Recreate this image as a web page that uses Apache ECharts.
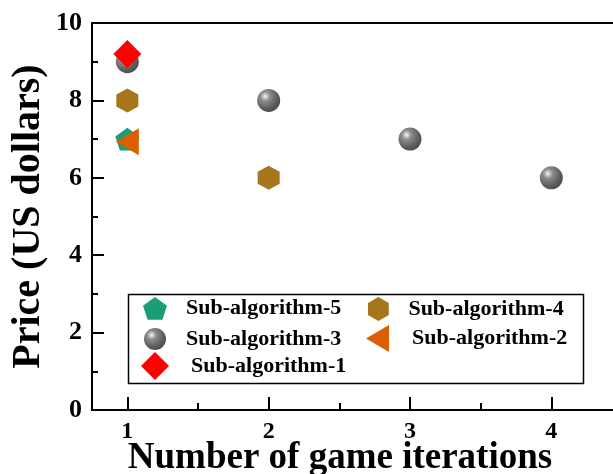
<!DOCTYPE html>
<html>
<head>
<meta charset="utf-8">
<script src="https://cdn.jsdelivr.net/npm/echarts@6/dist/echarts.min.js"></script>
<style>html,body{margin:0;padding:0;background:#fff;}#c{width:613px;height:474px;}</style>
</head>
<body>
<div id="c"></div>
<script>
// ---- data ----
const seriesNames = ['Sub-algorithm-5','Sub-algorithm-4','Sub-algorithm-3','Sub-algorithm-2','Sub-algorithm-1'];
const alg5X = [1], alg5Y = [7];
const alg4X = [1, 2], alg4Y = [8, 6];
const alg3X = [1, 2, 3, 4], alg3Y = [9, 8, 7, 6];
const alg2X = [1], alg2Y = [6.93];
const alg1X = [1], alg1Y = [9.2];
const xTickValues = [1, 2, 3, 4];
const xMinorTickValues = [1.5, 2.5, 3.5];
const xTitle = 'Number of game iterations';
const yTitle = 'Price (US dollars)';

function pts(xs, ys) { return xs.map((x, i) => [x, ys[i]]); }

const FONT = '"Liberation Serif","Times New Roman",serif';
const pentagon = 'path://M0,-10 L9.511,-3.09 L5.878,8.09 L-5.878,8.09 L-9.511,-3.09 Z';
const hexagon = 'path://M0,-10 L8.66,-5 L8.66,5 L0,10 L-8.66,5 L-8.66,-5 Z';
const leftTri = 'path://M-10,0 L10,-11.7 L10,11.7 Z';
const sphere = {
  type: 'radial', x: 0.35, y: 0.32, r: 0.75,
  colorStops: [
    { offset: 0, color: '#f4f4f4' },
    { offset: 0.28, color: '#8c8c8c' },
    { offset: 0.7, color: '#5e5e5e' },
    { offset: 1, color: '#4a4a4a' }
  ]
};

const chart = echarts.init(document.getElementById('c'), null, { renderer: 'canvas' });

function leg(name, left, top, size, pad) {
  return {
    data: [name], left: left, top: top, orient: 'horizontal',
    itemWidth: size[0], itemHeight: size[1], padding: 0,
    selectedMode: false,
    textStyle: { fontFamily: FONT, fontWeight: 'bold', fontSize: 22, color: '#000', padding: [0, 0, 0, pad] }
  };
}

const option = {
  animation: false,
  backgroundColor: '#fff',
  grid: { left: 92, top: 23, right: -9, bottom: 64, outerBoundsMode: 'none', containLabel: false, show: true, borderColor: '#000', borderWidth: 2, backgroundColor: 'transparent' },
  xAxis: [{
    type: 'value', min: 0.75, max: 4.5,
    name: xTitle, nameLocation: 'middle', nameGap: 30, nameMoveOverlap: false,
    nameTextStyle: { fontFamily: FONT, fontWeight: 'bold', fontSize: 37, color: '#000', padding: [0, 34, 0, 0] },
    axisLine: { show: true, lineStyle: { color: '#000', width: 2 } },
    axisTick: { show: true, inside: true, length: 13, lineStyle: { color: '#000', width: 2 }, customValues: xTickValues },
    axisLabel: { show: true, fontFamily: FONT, fontWeight: 'bold', fontSize: 24, color: '#000', margin: 10, customValues: xTickValues },
    splitLine: { show: false }
  }, {
    type: 'value', min: 0.75, max: 4.5, position: 'bottom', offset: 0,
    axisLine: { show: false },
    axisTick: { show: true, inside: true, length: 7, lineStyle: { color: '#000', width: 2 }, customValues: xMinorTickValues },
    axisLabel: { show: false },
    splitLine: { show: false }
  }],
  yAxis: {
    type: 'value', min: 0, max: 10, interval: 2,
    name: yTitle, nameLocation: 'middle', nameGap: 43, nameMoveOverlap: false,
    nameTextStyle: { fontFamily: FONT, fontWeight: 'bold', fontSize: 40, color: '#000' },
    axisLine: { show: true, lineStyle: { color: '#000', width: 2 } },
    axisTick: { show: true, inside: true, length: 12, lineStyle: { color: '#000', width: 2 } },
    minorTick: { show: true, splitNumber: 2, length: 6, lineStyle: { color: '#000', width: 2 } },
    axisLabel: { fontFamily: FONT, fontWeight: 'bold', fontSize: 26, color: '#000', margin: 10 },
    splitLine: { show: false }
  },
  legend: [
    leg(seriesNames[0], 143, 297, [24, 24], 14),
    leg(seriesNames[1], 368, 297, [22, 24], 14),
    leg(seriesNames[2], 144, 328, [22, 22], 15),
    leg(seriesNames[3], 366, 325, [23, 27], 18),
    leg(seriesNames[4], 141, 352, [28, 28], 17)
  ],
  graphic: [{
    type: 'rect', left: 126, top: 292, shape: { width: 455, height: 89 },
    style: { fill: 'none', stroke: '#000', lineWidth: 1.5 }, z: 100
  }],
  series: [
    { name: seriesNames[0], type: 'scatter', data: pts(alg5X, alg5Y), symbol: pentagon, symbolSize: 24, symbolKeepAspect: true, itemStyle: { color: '#1b9e77', opacity: 1 } },
    { name: seriesNames[1], type: 'scatter', data: pts(alg4X, alg4Y), symbol: hexagon, symbolSize: [22, 24], itemStyle: { color: '#a6761d', opacity: 1 } },
    { name: seriesNames[2], type: 'scatter', data: pts(alg3X, alg3Y), symbol: 'circle', symbolSize: 23, itemStyle: { color: sphere, opacity: 1 } },
    { name: seriesNames[3], type: 'scatter', data: pts(alg2X, alg2Y), symbol: leftTri, symbolSize: [23, 27], itemStyle: { color: '#d95f02', opacity: 1 } },
    { name: seriesNames[4], type: 'scatter', data: pts(alg1X, alg1Y), symbol: 'diamond', symbolSize: 28, itemStyle: { color: '#ff0000', opacity: 1 } }
  ]
};
chart.setOption(option);
</script>
</body>
</html>
